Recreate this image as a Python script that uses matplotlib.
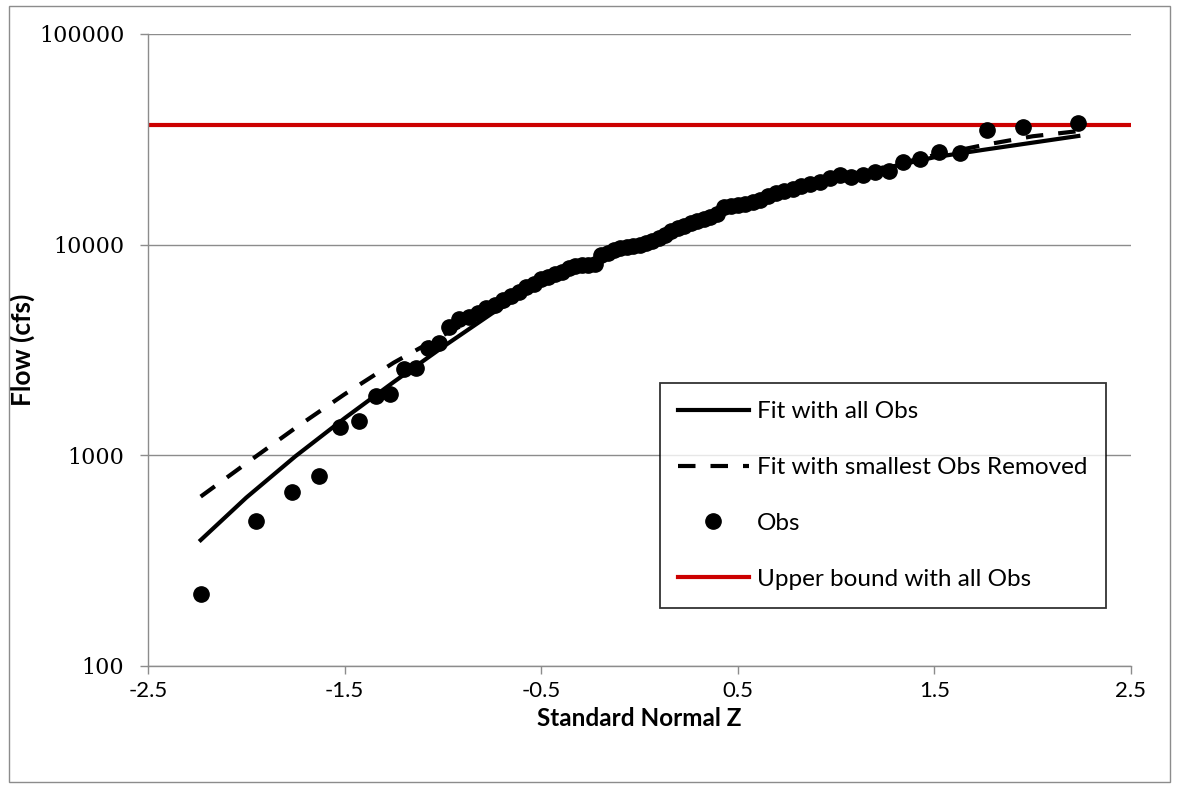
import matplotlib
matplotlib.use("Agg")
import matplotlib.pyplot as plt
from matplotlib.patches import Rectangle
from matplotlib.lines import Line2D

# ---- data ----
obs_z = [-2.232, -1.949, -1.769, -1.632, -1.522, -1.426, -1.342, -1.267, -1.198, -1.135,
         -1.076, -1.020, -0.967, -0.917, -0.869, -0.823, -0.779, -0.736, -0.695, -0.655,
         -0.615, -0.577, -0.539, -0.502, -0.466, -0.431, -0.396, -0.361, -0.327, -0.293,
         -0.260, -0.227, -0.194, -0.161, -0.129, -0.097, -0.064, -0.032, 0.000, 0.032,
         0.064, 0.097, 0.129, 0.161, 0.194, 0.227, 0.260, 0.293, 0.327, 0.361,
         0.396, 0.431, 0.466, 0.502, 0.539, 0.577, 0.615, 0.655, 0.695, 0.736,
         0.779, 0.823, 0.869, 0.917, 0.967, 1.020, 1.076, 1.135, 1.198, 1.267,
         1.342, 1.426, 1.522, 1.632, 1.769, 1.949, 2.232]
obs_flow = [220, 488, 670, 798, 1363, 1455, 1913, 1955, 2569, 2597,
            3232, 3414, 4067, 4438, 4536, 4738, 5005, 5171, 5463, 5706,
            5961, 6297, 6506, 6871, 7023, 7257, 7418, 7750, 7922, 8008,
            8008, 8095, 8933, 9131, 9434, 9643, 9748, 9855, 9963, 10183,
            10409, 10757, 11115, 11612, 12000, 12265, 12675, 12955, 13240, 13532,
            13985, 15095, 15262, 15428, 15600, 15940, 16293, 17022, 17592, 17981,
            18378, 18990, 19410, 19839, 20726, 21415, 20950, 21415, 22130, 22370,
            24690, 25510, 27540, 27240, 35030, 36200, 37810]

fit_z = [-2.232, -2.0, -1.75, -1.5, -1.25, -1.0, -0.75, -0.5, -0.25, 0.0,
         0.25, 0.5, 0.75, 1.0, 1.25, 1.5, 1.75, 2.0, 2.232]
fit_all = [396, 630, 990, 1500, 2230, 3270, 4720, 6500, 8300, 10000,
           12300, 14800, 17500, 20200, 23100, 26000, 28200, 30500, 32800]
fit_removed = [637, 916, 1349, 1950, 2754, 3715, 4900, 6560, 8320, 10020,
               12330, 14850, 17570, 20320, 23400, 26600, 29700, 32700, 34600]

upper_bound = 37000
x_ticks = [-2.5, -1.5, -0.5, 0.5, 1.5, 2.5]
y_ticks = [100, 1000, 10000, 100000]
y_tick_labels = ["100", "1000", "10000", "100000"]

W, H = 1178, 787
fig = plt.figure(figsize=(W / 100, H / 100), dpi=100)
fig.patches.append(Rectangle((9 / W, 5 / H), (1170 - 9) / W, (781 - 5) / H,
                             transform=fig.transFigure, fill=False,
                             edgecolor="#8c8c8c", linewidth=1.0))

ax = fig.add_axes([148 / W, 1 - 666 / H, (1131 - 148) / W, (666 - 34) / H])
ax.set_yscale("log")
ax.set_xlim(-2.5, 2.5)
ax.set_ylim(100, 100000)

for v in y_ticks:
    ax.axhline(v, color="#8c8c8c", linewidth=1.0, zorder=0)

ax.axhline(upper_bound, color="#cc0000", linewidth=3, zorder=1,
           label="Upper bound with all Obs")
ax.plot(fit_z, fit_all, color="black", linewidth=3, zorder=3,
        label="Fit with all Obs")
ax.plot(fit_z, fit_removed, color="black", linewidth=3, zorder=3,
        dashes=(4.2, 3.6), label="Fit with smallest Obs Removed")
ax.plot(obs_z, obs_flow, linestyle="none", marker="o", markersize=11,
        color="black", zorder=4, label="Obs")

for s in ["top", "right"]:
    ax.spines[s].set_visible(False)
for s in ["left", "bottom"]:
    ax.spines[s].set_color("#8c8c8c")
    ax.spines[s].set_linewidth(1.0)

ax.set_xticks(x_ticks)
ax.set_xticklabels([f"{v:g}" for v in x_ticks], fontfamily="Lato", fontsize=16)
ax.set_yticks(y_ticks)
ax.set_yticklabels(y_tick_labels, fontfamily="DejaVu Serif", fontsize=16)
ax.yaxis.set_minor_locator(matplotlib.ticker.NullLocator())
ax.tick_params(axis="both", which="major", direction="out", length=6,
               color="#8c8c8c", width=1.0)
ax.tick_params(axis="x", pad=5)
ax.tick_params(axis="y", pad=11)

ax.set_xlabel("Standard Normal Z", fontfamily="Lato", fontweight="bold",
              fontsize=17.5, labelpad=4)
ax.set_ylabel("Flow (cfs)", fontfamily="Lato", fontweight="bold",
              fontsize=19, labelpad=3)

handles = [
    Line2D([], [], color="black", linewidth=3),
    Line2D([], [], color="black", linewidth=3, dashes=(4.2, 3.6)),
    Line2D([], [], color="black", marker="o", markersize=11, linestyle="none"),
    Line2D([], [], color="#cc0000", linewidth=3),
]
labels = ["Fit with all Obs", "Fit with smallest Obs Removed", "Obs",
          "Upper bound with all Obs"]
leg = fig.legend(handles, labels, loc="upper left",
                 bbox_to_anchor=(660 / W, 1 - 383 / H), borderaxespad=0,
                 frameon=True, fancybox=False, edgecolor="black",
                 prop={"family": "Lato", "size": 17.5},
                 handlelength=2.9, handletextpad=0.35, labelspacing=1.43,
                 borderpad=0.75)
leg.get_frame().set_linewidth(1.3)

fig.savefig("out.png", dpi=100)
